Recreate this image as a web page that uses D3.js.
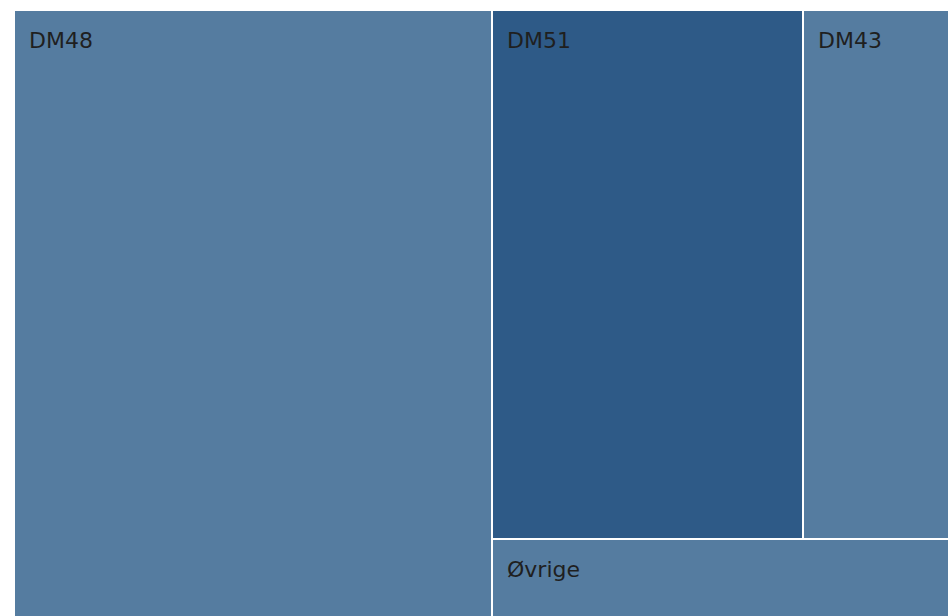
<!DOCTYPE html>
<html>
<head>
<meta charset="utf-8">
<script src="https://cdn.jsdelivr.net/npm/d3@7"></script>
<style>
  html, body { margin: 0; padding: 0; background: #fff; overflow: hidden; }
  svg { display: block; }
</style>
</head>
<body>
<svg id="chart" width="948" height="616"></svg>
<script>
const categories = ["DM48", "DM51", "DM43", "Øvrige"];
const values = [51.1, 28.9, 13.7, 6.35];
const colors = ["#557ca0", "#2e5a87", "#557ca0", "#557ca0"];

(function () {
  const svg = d3.select("#chart");
  const offX = 15, offY = 11, w = 934, h = 606;

  const leaf = i => ({ name: categories[i], value: values[i], color: colors[i] });
  // layout grouping: left column | (top row [DM51, DM43] / bottom Øvrige)
  const tree = {
    children: [
      leaf(0),
      { children: [ { children: [leaf(1), leaf(2)] }, leaf(3) ] }
    ]
  };

  const root = d3.hierarchy(tree).sum(d => d.value || 0);

  d3.treemap()
    .tile(d3.treemapSliceDice)
    .size([w, h])
    .paddingInner(2)
    .round(true)(root);

  const g = svg.append("g").attr("transform", `translate(${offX},${offY})`);
  const node = g.selectAll("g.node").data(root.leaves()).join("g")
    .attr("class", "node")
    .attr("transform", d => `translate(${d.x0},${d.y0})`);

  node.append("rect")
    .attr("width", d => d.x1 - d.x0)
    .attr("height", d => d.y1 - d.y0)
    .attr("fill", d => d.data.color);

  node.append("text")
    .attr("x", 14)
    .attr("y", 36.5)
    .attr("font-family", "DejaVu Sans, Verdana, sans-serif")
    .attr("font-size", 22)
    .attr("fill", "#1f1f1f")
    .text(d => d.data.name);
})();
</script>
</body>
</html>
